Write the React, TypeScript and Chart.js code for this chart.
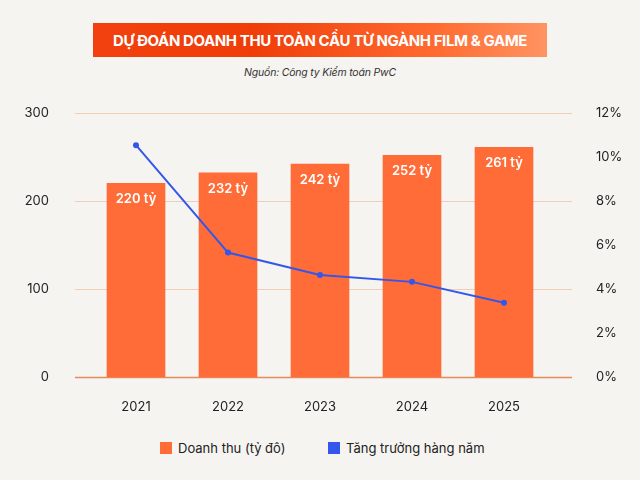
import React, { useEffect, useRef } from "react";
import { Chart, registerables } from "chart.js";

Chart.register(...registerables);

const years = ["2021", "2022", "2023", "2024", "2025"];
const revenue = [220, 232, 242, 252, 261];
const growth = [10.54, 5.66, 4.64, 4.33, 3.38];
const barLabels = ["220 tỷ", "232 tỷ", "242 tỷ", "252 tỷ", "261 tỷ"];
const leftTicks = [0, 100, 200, 300];
const title = "DỰ ĐOÁN DOANH THU TOÀN CẦU TỪ NGÀNH FILM & GAME";
const source = "Nguồn: Công ty Kiểm toán PwC";
const legendRevenue = "Doanh thu (tỷ đô)";
const legendGrowth = "Tăng trưởng hàng năm";

const ORANGE = "#ff6c37";
const BLUE = "#3457eb";
const BG = "#f6f4f0";
const FONT = "Inter, 'Noto Sans', sans-serif";

export default function App() {
  const ref = useRef<HTMLCanvasElement | null>(null);

  useEffect(() => {
    if (!ref.current) return;
    const gridPlugin = {
      id: "extGrid",
      beforeDatasetsDraw(chart: any) {
        const ctx = chart.ctx;
        const y = chart.scales.y;
        ctx.save();
        leftTicks.forEach((v) => {
          const py = Math.round(y.getPixelForValue(v)) + 0.5;
          ctx.strokeStyle = v === 0 ? "#e58a5e" : "#f1cdb6";
          ctx.lineWidth = v === 0 ? 1.5 : 1;
          ctx.beginPath();
          ctx.moveTo(75, py);
          ctx.lineTo(572, py);
          ctx.stroke();
        });
        ctx.restore();
      },
    };
    const labelPlugin = {
      id: "barLabels",
      afterDatasetsDraw(chart: any) {
        const ctx = chart.ctx;
        const meta = chart.getDatasetMeta(1);
        ctx.save();
        ctx.fillStyle = "#ffffff";
        ctx.font = `600 13px ${FONT}`;
        ctx.textAlign = "center";
        ctx.textBaseline = "middle";
        meta.data.forEach((el: any, i: number) => {
          ctx.fillText(barLabels[i], el.x, el.y + 16);
        });
        ctx.restore();
      },
    };
    const chart = new Chart(ref.current, {
      type: "bar",
      data: {
        labels: years,
        datasets: [
          {
            type: "line",
            label: legendGrowth,
            data: growth,
            yAxisID: "y1",
            borderColor: BLUE,
            backgroundColor: BLUE,
            borderWidth: 2,
            pointRadius: 3,
            pointBackgroundColor: BLUE,
            pointBorderWidth: 0,
            order: 0,
          } as any,
          {
            type: "bar",
            label: legendRevenue,
            data: revenue,
            yAxisID: "y",
            backgroundColor: ORANGE,
            barThickness: 58,
            order: 1,
          },
        ],
      },
      options: {
        animation: false,
        responsive: false,
        layout: { padding: { top: 113, left: 0, right: 0, bottom: 0 } },
        plugins: { legend: { display: false }, tooltip: { enabled: false } },
        scales: {
          x: {
            grid: { display: false },
            border: { display: false },
            ticks: { color: "#222", font: { family: FONT, size: 13 }, padding: 14 },
            afterFit: (s: any) => {
              s.height = 34;
            },
          },
          y: {
            position: "left",
            min: 0,
            max: 300,
            grid: { display: false },
            border: { display: false },
            ticks: {
              stepSize: 100,
              color: "#222",
              font: { family: FONT, size: 13 },
              padding: 33,
            },
            afterFit: (s: any) => {
              s.width = 90;
            },
          },
          y1: {
            position: "right",
            min: 0,
            max: 12,
            grid: { display: false },
            border: { display: false },
            ticks: {
              stepSize: 2,
              color: "#222",
              font: { family: FONT, size: 13 },
              padding: 38,
              callback: (v: any) => `${v}%`,
            },
            afterFit: (s: any) => {
              s.width = 90;
            },
          },
        },
      },
      plugins: [gridPlugin, labelPlugin],
    });
    return () => chart.destroy();
  }, []);

  return (
    <div
      style={{
        position: "fixed",
        left: 0,
        top: 0,
        width: 640,
        height: 480,
        background: BG,
        fontFamily: FONT,
        overflow: "hidden",
      }}
    >
      <div
        style={{
          position: "absolute",
          left: 93,
          top: 23,
          width: 454,
          height: 34,
          background: "linear-gradient(90deg, #f2410f 0%, #f03d08 35%, #ff6a30 75%, #ff9462 100%)",
          color: "#fff",
          fontWeight: 700,
          fontSize: 15,
          display: "flex",
          alignItems: "center",
          justifyContent: "center",
          letterSpacing: -0.4,
          whiteSpace: "nowrap",
        }}
      >
        {title}
      </div>
      <div
        style={{
          position: "absolute",
          left: 0,
          width: 640,
          top: 66,
          textAlign: "center",
          fontSize: 10.5,
          letterSpacing: -0.2,
          fontStyle: "italic",
          color: "#333",
        }}
      >
        {source}
      </div>
      <canvas
        ref={ref}
        width={640}
        height={423}
        style={{ position: "absolute", left: 0, top: 0, width: 640, height: 423 }}
      />
      <div
        style={{
          position: "absolute",
          top: 440,
          left: 160,
          display: "flex",
          alignItems: "center",
          fontSize: 13,
          color: "#222",
          whiteSpace: "nowrap",
        }}
      >
        <span style={{ width: 12, height: 12, background: ORANGE, display: "inline-block", marginRight: 6 }} />
        <span style={{ width: 132 }}>{legendRevenue}</span>
        <span style={{ width: 12, height: 12, background: BLUE, display: "inline-block", marginRight: 6, marginLeft: 18 }} />
        <span>{legendGrowth}</span>
      </div>
    </div>
  );
}
